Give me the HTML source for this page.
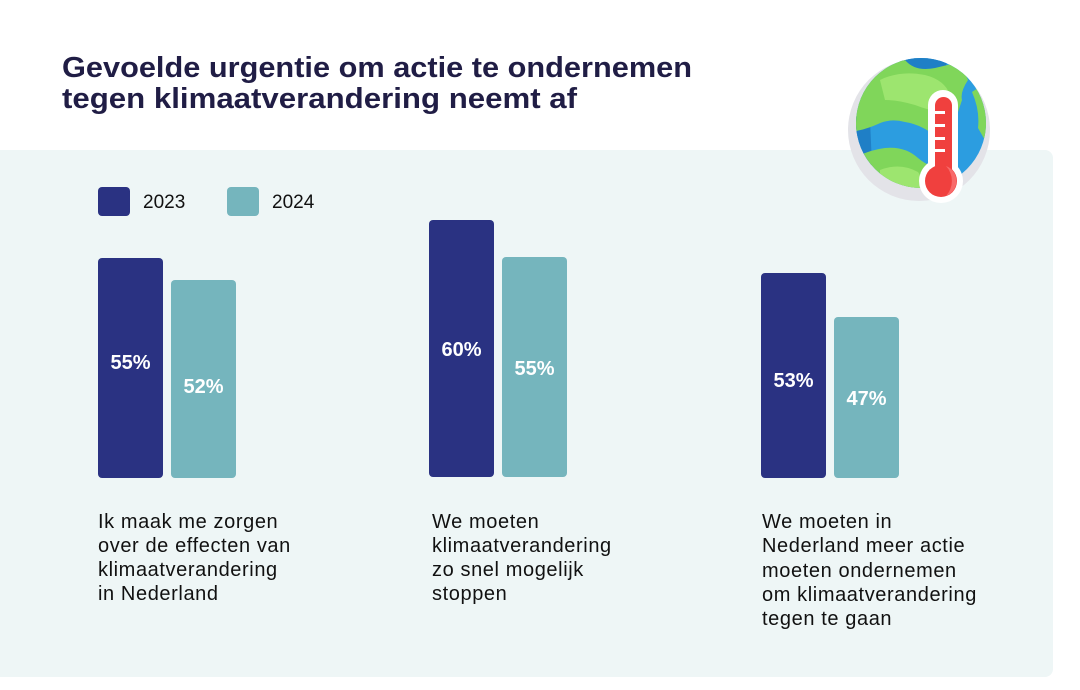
<!DOCTYPE html>
<html>
<head>
<meta charset="utf-8">
<style>
  html,body{margin:0;padding:0;background:#ffffff;}
  svg{display:block;}
  text{font-family:"Liberation Sans",sans-serif;}
</style>
</head>
<body>
<svg width="1080" height="690" viewBox="0 0 1080 690" xmlns="http://www.w3.org/2000/svg">
  <rect x="0" y="0" width="1080" height="690" fill="#ffffff"/>
  <!-- panel -->
  <rect x="-12" y="150" width="1065" height="527" rx="8" ry="8" fill="#eef6f6"/>

  <!-- Title -->
  <text x="62" y="77" font-size="29" font-weight="bold" fill="#201d45" textLength="630" lengthAdjust="spacingAndGlyphs">Gevoelde urgentie om actie te ondernemen</text>
  <text x="62" y="108" font-size="29" font-weight="bold" fill="#201d45" textLength="515" lengthAdjust="spacingAndGlyphs">tegen klimaatverandering neemt af</text>

  <!-- Globe icon -->
  <defs>
    <clipPath id="gclip"><circle cx="921" cy="123" r="65"/></clipPath>
  </defs>
  <circle cx="919" cy="130" r="71" fill="#e3e3e8"/>
  <circle cx="921" cy="123" r="65" fill="#2c9de0"/>
  <g clip-path="url(#gclip)">
    <path d="M850 115 L870 120 L872 165 L850 170 Z" fill="#1f7fc6"/>
    <path d="M895 55 L950 55 L945 68 L905 70 Z" fill="#1f7fc6"/>
    <path d="M850 60 L905 60 Q915 72 935 68 L960 62 L968 80 Q960 92 962 100 L958 112 Q948 110 940 118 L930 132 Q918 124 905 122 Q890 118 878 124 Q865 130 850 132 Z" fill="#80d65a"/>
    <path d="M880 80 Q900 70 925 75 Q945 80 950 95 L940 112 Q928 110 915 105 Q898 100 885 100 Z" fill="#9de56f"/>
    <path d="M972 92 Q980 110 978 128 Q985 140 990 150 L990 80 Z" fill="#80d65a"/>
    <path d="M850 160 Q868 150 885 148 Q905 146 918 158 Q930 168 945 170 L960 178 L960 195 L850 195 Z" fill="#80d65a"/>
    <path d="M880 170 Q900 162 918 172 L930 190 L880 192 Z" fill="#9de56f"/>
  </g>
  <!-- thermometer -->
  <rect x="928" y="90" width="30" height="96" rx="15" fill="#ffffff"/>
  <circle cx="941" cy="181" r="22" fill="#ffffff"/>
  <rect x="935" y="97" width="17" height="86" rx="8.5" fill="#f0403e"/>
  <circle cx="941" cy="181" r="16" fill="#f0403e"/>
  <path d="M946 166 A16 16 0 0 1 946 196 A22 22 0 0 0 946 166 Z" fill="#f86a6a"/>
  <rect x="935" y="111" width="10" height="3" fill="#ffffff"/>
  <rect x="935" y="124" width="10" height="3" fill="#ffffff"/>
  <rect x="935" y="137" width="10" height="3" fill="#ffffff"/>
  <rect x="935" y="149" width="10" height="3" fill="#ffffff"/>

  <!-- Legend -->
  <rect x="98" y="187" width="32" height="29" rx="4" fill="#2a3282"/>
  <text x="143" y="208" font-size="19" fill="#111111">2023</text>
  <rect x="227" y="187" width="32" height="29" rx="4" fill="#75b5bd"/>
  <text x="272" y="208" font-size="19" fill="#111111">2024</text>

  <!-- Group 1 -->
  <rect x="98" y="258" width="65" height="220" rx="4" fill="#2a3282"/>
  <rect x="171" y="280" width="65" height="198" rx="4" fill="#75b5bd"/>
  <text x="130.5" y="369" font-size="20" font-weight="bold" fill="#ffffff" text-anchor="middle">55%</text>
  <text x="203.5" y="393" font-size="20" font-weight="bold" fill="#ffffff" text-anchor="middle">52%</text>

  <!-- Group 2 -->
  <rect x="429" y="220" width="65" height="257" rx="4" fill="#2a3282"/>
  <rect x="502" y="257" width="65" height="220" rx="4" fill="#75b5bd"/>
  <text x="461.5" y="356" font-size="20" font-weight="bold" fill="#ffffff" text-anchor="middle">60%</text>
  <text x="534.5" y="375" font-size="20" font-weight="bold" fill="#ffffff" text-anchor="middle">55%</text>

  <!-- Group 3 -->
  <rect x="761" y="273" width="65" height="205" rx="4" fill="#2a3282"/>
  <rect x="834" y="317" width="65" height="161" rx="4" fill="#75b5bd"/>
  <text x="793.5" y="387" font-size="20" font-weight="bold" fill="#ffffff" text-anchor="middle">53%</text>
  <text x="866.5" y="405" font-size="20" font-weight="bold" fill="#ffffff" text-anchor="middle">47%</text>

  <!-- Category labels -->
  <g font-size="20" fill="#111111" letter-spacing="0.6">
    <text x="98" y="528">Ik maak me zorgen</text>
    <text x="98" y="552">over de effecten van</text>
    <text x="98" y="576">klimaatverandering</text>
    <text x="98" y="600">in Nederland</text>

    <text x="432" y="528">We moeten</text>
    <text x="432" y="552">klimaatverandering</text>
    <text x="432" y="576">zo snel mogelijk</text>
    <text x="432" y="600">stoppen</text>

    <text x="762" y="528">We moeten in</text>
    <text x="762" y="552">Nederland meer actie</text>
    <text x="762" y="577">moeten ondernemen</text>
    <text x="762" y="601">om klimaatverandering</text>
    <text x="762" y="625">tegen te gaan</text>
  </g>
</svg>
</body>
</html>
